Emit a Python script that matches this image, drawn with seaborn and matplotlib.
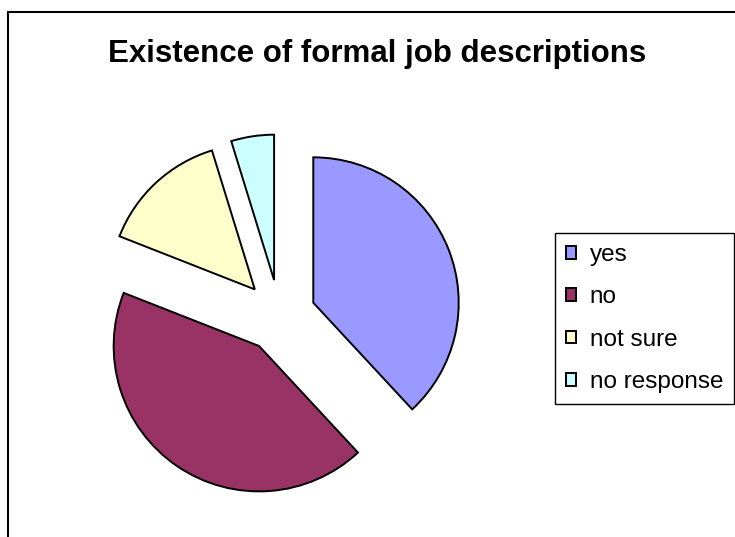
import matplotlib
matplotlib.use("Agg")
import matplotlib.pyplot as plt
from matplotlib.patches import Rectangle
import seaborn as sns

# Survey answers: does the organisation have formal job descriptions?
categories = ["yes", "no", "not sure", "no response"]
responses = [8, 9, 3, 1]
slice_colors = ["#9999FF", "#993366", "#FFFFCC", "#CCFFFF"]
title = "Existence of formal job descriptions"

sns.set_theme(style="white")
plt.rcParams["font.family"] = ["Liberation Sans", "DejaVu Sans"]

W, H = 735, 537
fig = plt.figure(figsize=(W / 100, H / 100), dpi=100)
fig.patch.set_facecolor("white")

# one axes spanning the figure, with data units equal to pixels
ax = fig.add_axes([0, 0, 1, 1])
palette = sns.color_palette(slice_colors)
radius = 145.4
wedges, _ = ax.pie(
    responses,
    colors=palette,
    startangle=90,
    counterclock=False,
    explode=[36.3] * len(responses),
    radius=radius,
    center=(279.5, H - 316),
    wedgeprops=dict(edgecolor="black", linewidth=1.4),
)
ax.set_xlim(0, W)
ax.set_ylim(0, H)
ax.set_aspect("equal")
ax.axis("off")

fig.text(376.7 / W, 1 - 62.3 / H, title, ha="center", va="baseline",
         fontsize=22.5, fontweight="bold", color="black")

leg = ax.legend(
    wedges, categories,
    loc="upper left",
    bbox_to_anchor=(555 / W, 1 - 233 / H),
    bbox_transform=fig.transFigure,
    borderaxespad=0,
    frameon=True,
    fancybox=False,
    shadow=False,
    framealpha=1,
    edgecolor="black",
    labelcolor="black",
    fontsize=17.5,
    handlelength=0.43,
    handleheight=0.43,
    handletextpad=0.55,
    labelspacing=0.84,
    borderpad=0.45,
)
leg.get_frame().set_linewidth(1.0)

# chart-area border, running off the right and bottom edges
fig.patches.append(Rectangle((8 / W, -0.1), 1.2, (1 - 11.7 / H) + 0.1,
                             transform=fig.transFigure, fill=False,
                             edgecolor="black", linewidth=1.5))

fig.savefig("out.png", dpi=100)
